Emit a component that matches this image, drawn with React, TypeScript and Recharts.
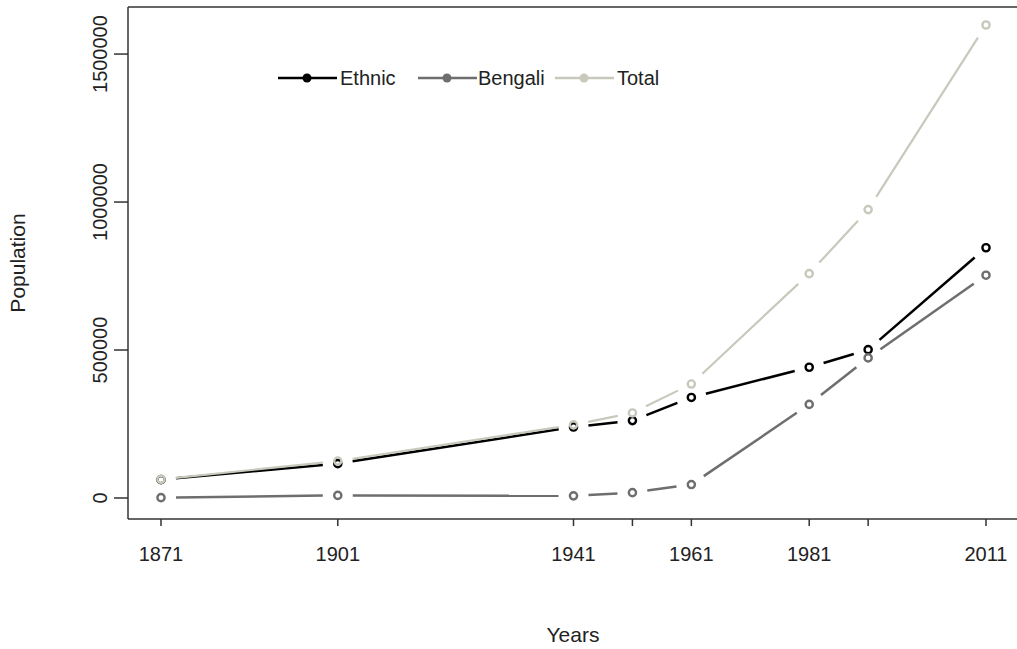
import React from "react";
import { LineChart, Line, XAxis, YAxis, ReferenceLine, Label } from "recharts";

const years = [1871, 1901, 1941, 1951, 1961, 1981, 1991, 2011];
const ethnic = [61957, 116000, 239783, 261538, 339757, 441776, 501144, 845541];
const bengali = [1097, 8762, 7270, 18070, 45322, 316267, 473303, 752690];
const total = [63054, 124762, 247053, 287274, 385079, 758043, 974447, 1598231];

const xTicks = [1871, 1901, 1941, 1951, 1961, 1981, 1991, 2011];
const xLabels = [1871, 1901, 1941, 1961, 1981, 2011];
const yTicks = [0, 500000, 1000000, 1500000];

const seriesNames = ["Ethnic", "Bengali", "Total"];
const seriesColors = ["#000000", "#6e6e6e", "#c8c8bc"];

const data = years.map((y, i) => ({
  year: y,
  Ethnic: ethnic[i],
  Bengali: bengali[i],
  Total: total[i],
}));

const FONT = "'Liberation Sans', Arial, sans-serif";
const GAP = 15;

const makeDot = (color: string, width: number) => (props: any) => {
  const { cx, cy, index, points } = props;
  let seg: any = null;
  if (points && index < points.length - 1) {
    const n = points[index + 1];
    const dx = n.x - cx;
    const dy = n.y - cy;
    const len = Math.hypot(dx, dy);
    if (len > 2 * GAP) {
      const ux = dx / len;
      const uy = dy / len;
      seg = (
        <line
          x1={cx + ux * GAP}
          y1={cy + uy * GAP}
          x2={n.x - ux * GAP}
          y2={n.y - uy * GAP}
          stroke={color}
          strokeWidth={width}
        />
      );
    }
  }
  return (
    <g key={`dot-${index}`}>
      {seg}
      <circle cx={cx} cy={cy} r={3.6} fill="none" stroke={color} strokeWidth={2.4} />
    </g>
  );
};

const XTick = (props: any) => {
  const { x, y, payload } = props;
  if (!xLabels.includes(payload.value)) return <g />;
  return (
    <text x={x} y={y + 35} textAnchor="middle" fontFamily={FONT} fontSize={20} fill="#222">
      {payload.value}
    </text>
  );
};

const YTick = (props: any) => {
  const { x, y, payload } = props;
  const tx = x - 7;
  return (
    <text
      x={tx}
      y={y}
      transform={`rotate(-90, ${tx}, ${y})`}
      textAnchor="middle"
      fontFamily={FONT}
      fontSize={20}
      fill="#222"
    >
      {String(payload.value)}
    </text>
  );
};

const legendSymX = [8, 148, 285];
const legendTextX = [70, 208, 347];

const LegendBox = () => (
  <svg
    width={420}
    height={40}
    style={{ position: "absolute", left: 270, top: 60, display: "block" }}
  >
    {seriesNames.map((n, i) => (
      <g key={n}>
        <line x1={legendSymX[i]} y1={18} x2={legendSymX[i] + 59} y2={18} stroke={seriesColors[i]} strokeWidth={2.5} />
        <circle cx={legendSymX[i] + 29} cy={18} r={4.5} fill={seriesColors[i]} />
        <text x={legendTextX[i]} y={25} fontFamily={FONT} fontSize={20} fill="#222">
          {n}
        </text>
      </g>
    ))}
  </svg>
);

export default function App() {
  return (
    <div
      style={{
        position: "absolute",
        left: 0,
        top: 0,
        width: 1017,
        height: 649,
        overflow: "hidden",
        background: "#fff",
      }}
    >
      <LineChart width={1030} height={649} data={data} margin={{ top: 7, right: 11, bottom: 0, left: 0 }}>
        <XAxis
          dataKey="year"
          type="number"
          domain={[1865.4, 2016.6]}
          ticks={xTicks}
          interval={0}
          height={130}
          tickSize={7}
          tickMargin={0}
          tick={<XTick />}
          axisLine={{ stroke: "#333", strokeWidth: 1.5 }}
          tickLine={{ stroke: "#333", strokeWidth: 1.5 }}
          allowDataOverflow
        >
          <Label
            content={() => (
              <text x={573} y={642} textAnchor="middle" fontFamily={FONT} fontSize={21} fill="#222">
                Years
              </text>
            )}
          />
        </XAxis>
        <YAxis
          type="number"
          domain={[-71000, 1659000]}
          ticks={yTicks}
          interval={0}
          width={128}
          tickSize={14}
          tickMargin={0}
          tick={<YTick />}
          axisLine={{ stroke: "#333", strokeWidth: 1.5 }}
          tickLine={{ stroke: "#333", strokeWidth: 1.5 }}
          allowDataOverflow
        >
          <Label
            content={() => (
              <text
                x={25}
                y={263}
                transform="rotate(-90, 25, 263)"
                textAnchor="middle"
                fontFamily={FONT}
                fontSize={21}
                fill="#222"
              >
                Population
              </text>
            )}
          />
        </YAxis>
        <ReferenceLine y={1659000} stroke="#333" strokeWidth={1.5} />
        {seriesNames.map((n, i) => (
          <Line
            key={n}
            dataKey={n}
            stroke={seriesColors[i]}
            strokeOpacity={0}
            dot={makeDot(seriesColors[i], i === 2 ? 2.2 : 2.5)}
            activeDot={false}
            isAnimationActive={false}
          />
        ))}
      </LineChart>
      <LegendBox />
    </div>
  );
}
